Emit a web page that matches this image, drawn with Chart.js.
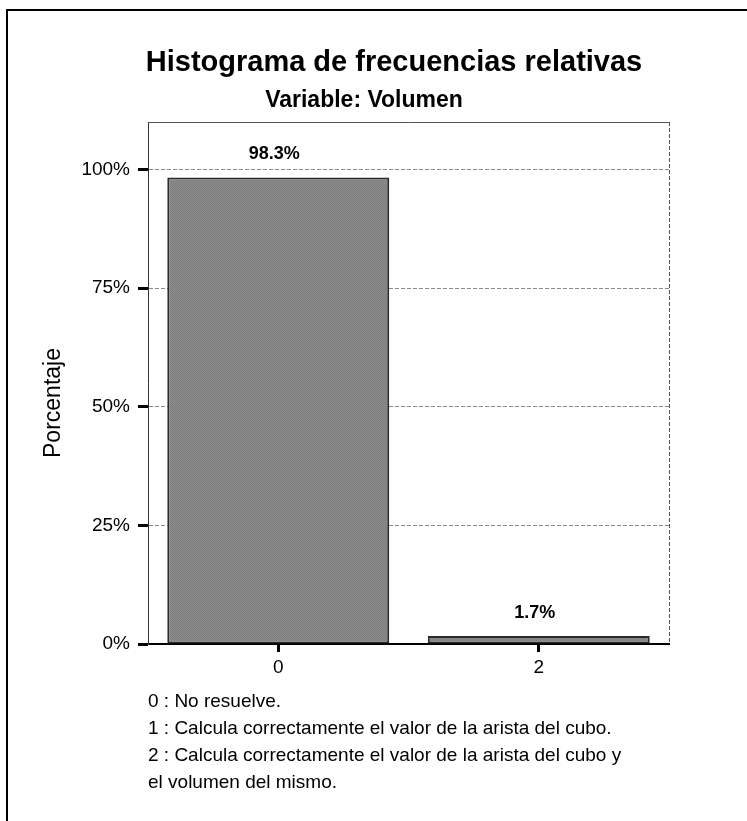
<!DOCTYPE html>
<html>
<head>
<meta charset="utf-8">
<script src="https://cdn.jsdelivr.net/npm/chart.js@4.4.1/dist/chart.umd.min.js"></script>
<style>
  html, body { margin: 0; padding: 0; background: #fff; }
  #wrap { position: relative; width: 747px; height: 821px; }
</style>
</head>
<body>
<div id="wrap"><canvas id="chart" width="747" height="821"></canvas></div>
<script>
// datos del histograma
var categories = ['0', '2'];
var percentages = [98.3, 1.7];
var yTicks = [0, 25, 50, 75, 100];
var chartTitle = 'Histograma de frecuencias relativas';
var chartSubtitle = 'Variable: Volumen';
var yTitle = 'Porcentaje';
var notes = [
    '0 : No resuelve.',
    '1 : Calcula correctamente el valor de la arista del cubo.',
    '2 : Calcula correctamente el valor de la arista del cubo y',
    'el volumen del mismo.'
];

var FONT = '"Liberation Sans", Arial, sans-serif';

// relleno gris tramado como en la imagen
function barPattern() {
    var c = document.createElement('canvas');
    c.width = 2; c.height = 2;
    var g = c.getContext('2d');
    g.fillStyle = '#8e8e8e'; g.fillRect(0, 0, 2, 2);
    g.fillStyle = '#7c7c7c'; g.fillRect(0, 0, 1, 1); g.fillRect(1, 1, 1, 1);
    return g.createPattern(c, 'repeat');
}

var decorPlugin = {
    id: 'decor',
    afterDraw: function(chart) {
        var ctx = chart.ctx;
        var area = chart.chartArea;
        ctx.save();

        // marco exterior
        ctx.strokeStyle = '#000';
        ctx.lineWidth = 2;
        ctx.beginPath();
        ctx.moveTo(7, 821); ctx.lineTo(7, 10); ctx.lineTo(747, 10);
        ctx.stroke();

        // borde superior y derecho del área
        ctx.lineWidth = 1;
        ctx.strokeStyle = '#555';
        ctx.beginPath();
        ctx.moveTo(area.left, area.top + 0.5); ctx.lineTo(area.right + 0.5, area.top + 0.5);
        ctx.stroke();
        ctx.setLineDash([4, 2]);
        ctx.beginPath();
        ctx.moveTo(area.right + 0.5, area.top); ctx.lineTo(area.right + 0.5, area.bottom);
        ctx.stroke();
        ctx.setLineDash([]);

        // títulos
        ctx.fillStyle = '#000';
        ctx.textAlign = 'center';
        ctx.textBaseline = 'middle';
        ctx.font = 'bold 29px ' + FONT;
        ctx.fillText(chartTitle, 394, 63);
        ctx.font = 'bold 23px ' + FONT;
        ctx.fillText(chartSubtitle, 364, 101);

        // título del eje Y
        ctx.save();
        ctx.translate(54, 403);
        ctx.rotate(-Math.PI / 2);
        ctx.font = '23px ' + FONT;
        ctx.fillText(yTitle, 0, 0);
        ctx.restore();

        // etiquetas de los valores
        var meta = chart.getDatasetMeta(0);
        ctx.font = 'bold 18px ' + FONT;
        meta.data.forEach(function(bar, i) {
            ctx.fillText(percentages[i].toFixed(1) + '%', bar.x - 4, bar.y - 23);
        });

        // notas
        ctx.textAlign = 'left';
        ctx.font = '19px ' + FONT;
        notes.forEach(function(line, i) {
            ctx.fillText(line, 148, 702 + i * 27);
        });
        ctx.restore();
    }
};

var myChart = new Chart(document.getElementById('chart'), {
    type: 'bar',
    data: {
        labels: categories,
        datasets: [{
            data: percentages,
            backgroundColor: barPattern(),
            borderColor: '#2a2a2a',
            borderWidth: 2,
            borderSkipped: false,
            barPercentage: 0.852,
            categoryPercentage: 1
        }]
    },
    options: {
        responsive: false,
        animation: false,
        devicePixelRatio: 1,
        layout: { padding: { left: 0, top: 122, right: 78, bottom: 147 } },
        plugins: {
            legend: { display: false },
            tooltip: { enabled: false },
            title: { display: false }
        },
        scales: {
            x: {
                grid: {
                    offset: false,
                    drawOnChartArea: false,
                    tickLength: 8,
                    tickWidth: 3,
                    tickColor: '#000'
                },
                border: { color: '#000', width: 2 },
                ticks: {
                    color: '#000',
                    padding: 4,
                    font: { family: FONT, size: 19 }
                },
                afterFit: function(scale) { scale.height = 30; }
            },
            y: {
                min: 0,
                max: 110,
                afterBuildTicks: function(scale) {
                    scale.ticks = yTicks.map(function(v) { return { value: v }; });
                },
                grid: {
                    color: function(c) { return c.tick && c.tick.value === 0 ? 'rgba(0,0,0,0)' : '#8a8a8a'; },
                    lineWidth: 1,
                    tickLength: 10,
                    tickWidth: 3,
                    tickColor: '#000',
                    tickBorderDash: []
                },
                border: { color: '#333', width: 1, dash: [4, 2] },
                ticks: {
                    color: '#000',
                    padding: 8,
                    font: { family: FONT, size: 19 },
                    callback: function(v) { return v + '%'; }
                },
                afterFit: function(scale) { scale.width = 148; }
            }
        }
    },
    plugins: [decorPlugin]
});
</script>
</body>
</html>
